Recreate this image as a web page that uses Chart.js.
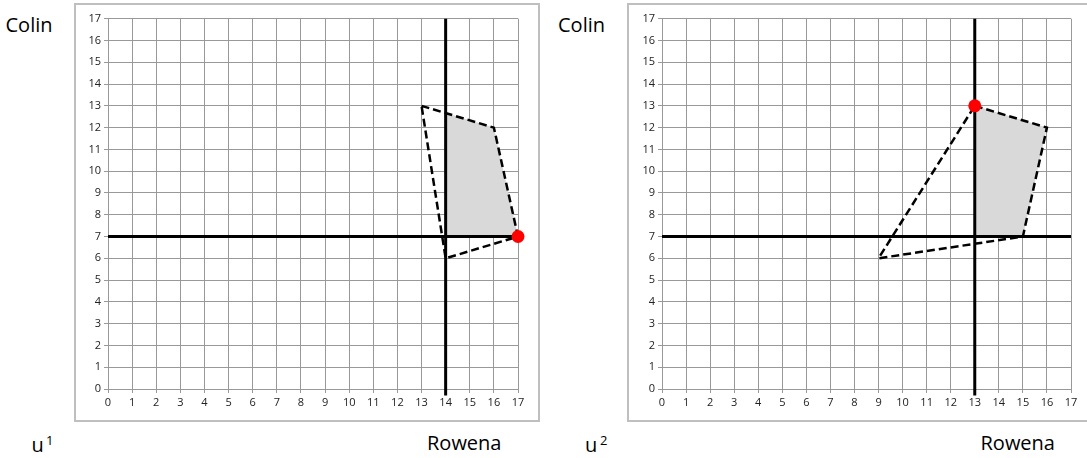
<!DOCTYPE html>
<html>
<head>
<meta charset="utf-8">
<script src="https://cdn.jsdelivr.net/npm/chart.js@4"></script>
<style>
    body { margin: 0; width: 1087px; height: 458px; overflow: hidden; background: #fff; position: relative; font-family: 'Open Sans', sans-serif; }
    .frame { position: absolute; border: 2px solid #bfbfbf; box-sizing: border-box; }
    canvas { position: absolute; }
    .lbl { position: absolute; font-size: 20px; line-height: 20px; color: #000; white-space: nowrap; }
    .sup { position: absolute; font-size: 13px; line-height: 13px; color: #000; }
</style>
</head>
<body>
<div class="frame" style="left:74px;top:3px;width:466px;height:419px;"></div>
<div class="frame" style="left:627px;top:3px;width:470px;height:419px;"></div>
<canvas id="chart-u1" width="466" height="419" style="left:74px;top:3px;"></canvas>
<canvas id="chart-u2" width="459" height="419" style="left:628px;top:3px;"></canvas>

<div class="lbl" style="left:5.5px;top:15px;">Colin</div>
<div class="lbl" style="left:558px;top:15px;">Colin</div>
<div class="lbl" style="left:427px;top:433px;">Rowena</div>
<div class="lbl" style="left:980.5px;top:432.5px;">Rowena</div>
<div class="lbl" style="left:31.5px;top:435px;">u</div>
<div class="sup" style="left:46px;top:433.5px;">1</div>
<div class="lbl" style="left:585px;top:435px;">u</div>
<div class="sup" style="left:600px;top:433.5px;">2</div>

<script>
// ── Data ─────────────────────────────────────────────────────
const axisTicks = [0, 1, 2, 3, 4, 5, 6, 7, 8, 9, 10, 11, 12, 13, 14, 15, 16, 17];

// u1: payoff polygon, feasible (shaded) part, threat point, solution
const u1HullX  = [13, 16, 17, 14, 13];
const u1HullY  = [13, 12, 7, 6, 13];
const u1ShadeX = [14, 16, 17, 14, 14];
const u1ShadeY = [12.67, 12, 7, 7, 12.67];
const u1Threat = [14, 7];
const u1Point  = [17, 7];

// u2
const u2HullX  = [13, 16, 15, 9, 13];
const u2HullY  = [13, 12, 7, 6, 13];
const u2ShadeX = [13, 16, 15, 13, 13];
const u2ShadeY = [13, 12, 7, 7, 13];
const u2Threat = [13, 7];
const u2Point  = [13, 13];

const zip = (xs, ys) => xs.map((x, i) => ({ x, y: ys[i] }));
const lo = axisTicks[0], hi = axisTicks[axisTicks.length - 1];

function axis(extra) {
    return Object.assign({
        type: 'linear', min: lo, max: hi,
        ticks: { stepSize: 1, autoSkip: false, maxRotation: 0, color: '#222', font: { family: 'Open Sans', size: 11 } },
        grid: { color: '#999', lineWidth: 1, tickLength: 4 },
        border: { color: '#999', width: 1 }
    }, extra);
}

function buildChart(id, hullX, hullY, shadeX, shadeY, threat, point, padRight) {
    const ctx = document.getElementById(id).getContext('2d');
    return new Chart(ctx, {
        type: 'scatter',
        data: {
            datasets: [
                { data: [{ x: point[0], y: point[1] }], pointRadius: 6.5, pointBackgroundColor: '#ff0000', pointBorderWidth: 0, clip: false },
                { data: zip(hullX, hullY), showLine: true, borderColor: '#000', borderWidth: 2.5, borderDash: [8, 4], pointRadius: 0, fill: false, clip: false },
                { data: [{ x: threat[0], y: -0.3 }, { x: threat[0], y: hi }], showLine: true, borderColor: '#000', borderWidth: 3, pointRadius: 0, clip: false },
                { data: [{ x: lo, y: threat[1] }, { x: hi, y: threat[1] }], showLine: true, borderColor: '#000', borderWidth: 3, pointRadius: 0 },
                { data: zip(shadeX, shadeY), showLine: true, borderWidth: 0, borderColor: 'rgba(0,0,0,0)', backgroundColor: '#d9d9d9', fill: 'shape', pointRadius: 0 }
            ]
        },
        options: {
            responsive: false, animation: false,
            layout: { padding: { top: 15.7, right: padRight, bottom: 0, left: 0 } },
            plugins: { legend: { display: false }, tooltip: { enabled: false } },
            scales: {
                x: axis({ afterFit: s => { s.height = 33; } }),
                y: axis({ afterFit: s => { s.width = 34; } })
            }
        }
    });
}

buildChart('chart-u1', u1HullX, u1HullY, u1ShadeX, u1ShadeY, u1Threat, u1Point, 22);
buildChart('chart-u2', u2HullX, u2HullY, u2ShadeX, u2ShadeY, u2Threat, u2Point, 16);
</script>
</body>
</html>
